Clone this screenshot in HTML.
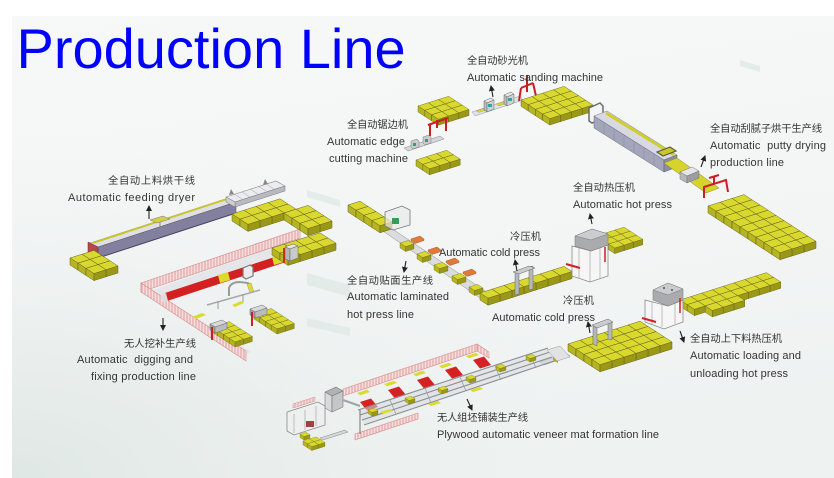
<!DOCTYPE html>
<html><head><meta charset="utf-8">
<style>
html,body{margin:0;padding:0;background:#fff;}
svg{display:block;}
.t{font-family:"Liberation Sans",Arial,sans-serif;font-size:11px;fill:#343434;white-space:pre;}
.c{font-family:"Liberation Sans","Noto Sans CJK SC","WenQuanYi Zen Hei",sans-serif;font-size:10.3px;fill:#343434;}
</style></head><body>
<svg width="834" height="478" viewBox="0 0 834 478" xmlns="http://www.w3.org/2000/svg" xmlns:xlink="http://www.w3.org/1999/xlink">
<defs>
 <linearGradient id="bg" x1="0" y1="0" x2="0.25" y2="1">
  <stop offset="0" stop-color="#f7f8f8"/>
  <stop offset="0.65" stop-color="#f3f5f5"/>
  <stop offset="1" stop-color="#eef2f1"/>
 </linearGradient>
 <radialGradient id="bl" cx="0" cy="1" r="0.75">
  <stop offset="0" stop-color="#dfe7e4" stop-opacity="1"/>
  <stop offset="1" stop-color="#eef2f1" stop-opacity="0"/>
 </radialGradient>
 <pattern id="hatch" width="3" height="12" patternUnits="userSpaceOnUse">
  <rect width="3" height="12" fill="#f7dede"/>
  <line x1="1" y1="0" x2="1" y2="12" stroke="#d88e8e" stroke-width="0.8"/>
 </pattern>
 <marker id="ah" markerWidth="6" markerHeight="6" refX="5" refY="3" orient="auto" markerUnits="userSpaceOnUse">
  <path d="M0,0 L6,3 L0,6 z" fill="#222"/>
 </marker>
 <g id="b" stroke="#66651c" stroke-width="0.5" stroke-linejoin="round">
  <polygon points="0,0 12,-3.8 20,1.4 8,5.2" fill="#d9d82e"/>
  <polygon points="0,0 8,5.2 8,12.2 0,7" fill="#b6b420"/>
  <polygon points="8,5.2 20,1.4 20,8.4 8,12.2" fill="#9a9816"/>
 </g>
 <g id="a2"><use href="#b" x="12" y="-3.8"/><use href="#b"/></g>
 <g id="a3"><use href="#b" x="24" y="-7.6"/><use href="#a2"/></g>
 <g id="a4"><use href="#b" x="36" y="-11.4"/><use href="#a3"/></g>
 <g id="a5"><use href="#b" x="48" y="-15.2"/><use href="#a4"/></g>
 <g id="a6"><use href="#b" x="60" y="-19"/><use href="#a5"/></g>
 <g id="a7"><use href="#b" x="72" y="-22.8"/><use href="#a6"/></g>
 <g id="a8"><use href="#b" x="84" y="-26.6"/><use href="#a7"/></g>
 <polygon id="rp" points="0,0 11,-3.5 18,5 7,8.5" fill="#d42222"/>
 <polygon id="yp" points="0,0 10,-3.3 13,-1 3,2.3" fill="#dcdb2c"/>
 <polygon id="op" points="0,0 9,-3 13,0 13,1.5 4,4.5 0,1.5" fill="#e07a38" stroke="#9a4a22" stroke-width="0.4"/>
</defs>

<!-- background -->
<rect width="834" height="478" fill="#fff"/>
<rect x="12" y="16" width="822" height="462" fill="url(#bg)"/>
<rect x="12" y="16" width="822" height="462" fill="url(#bl)"/>
<g fill="#dfeae6" opacity="0.8">
 <polygon points="307,190 340,200 340,207 307,197"/>
 <polygon points="307,273 350,285 350,297 307,285"/>
 <polygon points="307,318 350,328 350,336 307,326"/>
 <polygon points="740,60 760,66 760,72 740,66"/>
</g>

<!-- title -->
<text x="16.5" y="68" font-family="Liberation Sans, Arial, sans-serif" font-size="56" fill="#0000ff">Production Line</text>

<!-- ===== Digging & fixing line ===== -->
<polygon points="147,292 300,238 300,254 166,302" fill="#e4e6e9"/>
<polygon points="148,292 160,296 252,352 244,356" fill="#e6e8ea"/>
<polygon points="141,283 300,229 300,238 141,292" fill="url(#hatch)" stroke="#d48a8a" stroke-width="0.6"/>
<polygon points="141,283 246,351 246,361 141,292" fill="url(#hatch)" stroke="#d48a8a" stroke-width="0.6"/>
<polygon points="165,293 290,252 292,260 167,301" fill="#d42020"/>
<polygon points="160,296 166,293 168,301 163,302" fill="#dcdcdc"/>
<polygon points="218,275 228,272 230,280 220,283" fill="#dcdb2c"/>
<polygon points="272,257 282,254 284,262 274,265" fill="#dcdb2c"/>
<polygon points="243,268 250,265 253,267 253,276 246,279 243,277" fill="#ececee" stroke="#777" stroke-width="1.2"/>
<path d="M229,296 L229,288 Q231,282 240,282 L248,283 L252,290" fill="none" stroke="#9a9a9a" stroke-width="2"/>
<polygon points="247,284 251,283 254,292 250,293" fill="#dcdb2c" stroke="#888" stroke-width="0.4"/>
<line x1="207" y1="305" x2="260" y2="290" stroke="#a8a8ac" stroke-width="1.5"/>
<line x1="218" y1="301" x2="218" y2="309" stroke="#999" stroke-width="1"/>
<line x1="243" y1="294" x2="243" y2="302" stroke="#999" stroke-width="1"/>
<polygon points="192,317 202,313 206,315 196,319" fill="#dcdb2c"/>
<polygon points="232,305 241,301 244,303 235,307" fill="#dcdb2c"/>
<g transform="translate(212,327) scale(0.72)"><use href="#a2"/><use href="#a2" x="8" y="5.2"/><use href="#a2" x="16" y="10.4"/><use href="#a2" x="24" y="15.6"/></g>
<g transform="translate(254,314) scale(0.72)"><use href="#a2"/><use href="#a2" x="8" y="5.2"/><use href="#a2" x="16" y="10.4"/><use href="#a2" x="24" y="15.6"/></g>
<g stroke="#6a6a6a" stroke-width="0.5">
 <polygon points="250,309 262,305 267,308 255,312" fill="#d6d8da"/>
 <polygon points="250,309 255,312 255,318 250,315" fill="#a0a2a4"/>
 <polygon points="255,312 267,308 267,314 255,318" fill="#babcbe"/>
 <polygon points="210,324 222,320 227,323 215,327" fill="#d6d8da"/>
 <polygon points="210,324 215,327 215,333 210,330" fill="#a0a2a4"/>
 <polygon points="215,327 227,323 227,329 215,333" fill="#babcbe"/>
</g>
<line x1="252" y1="312" x2="252" y2="326" stroke="#cc2020" stroke-width="2"/>
<line x1="212" y1="327" x2="212" y2="340" stroke="#cc2020" stroke-width="2"/>

<!-- ===== Feeding dryer ===== -->
<polygon points="90,243 228,198 236,202 98,247" fill="#e0dfe8" stroke="#888" stroke-width="0.5"/>
<line x1="93" y1="243" x2="230" y2="198" stroke="#c8c628" stroke-width="1.8"/>
<polygon points="98,247 236,202 236,213 98,258" fill="#837f9f" stroke="#555" stroke-width="0.5"/>
<line x1="98" y1="258" x2="236" y2="213" stroke="#4a4660" stroke-width="1"/>
<polygon points="88,242 98,247 98,258 88,253" fill="#b84848" stroke="#6a2a2a" stroke-width="0.5"/>
<polygon points="150,220 163,216 170,219 157,223" fill="#d2d040" stroke="#777" stroke-width="0.5"/>
<line x1="160" y1="222" x2="160" y2="229" stroke="#888" stroke-width="1"/>
<polygon points="226,197 276,181 285,186 235,202" fill="#ececf0" stroke="#8a8a8a" stroke-width="0.6"/>
<polygon points="235,202 285,186 285,191 235,207" fill="#b9b9c2" stroke="#777" stroke-width="0.5"/>
<polygon points="226,197 235,202 235,207 226,202" fill="#cfcfd6" stroke="#777" stroke-width="0.5"/>
<g stroke="#9c9ca4" stroke-width="0.5">
 <line x1="234" y1="194" x2="242" y2="199"/><line x1="242" y1="192" x2="250" y2="197"/>
 <line x1="250" y1="189" x2="258" y2="194"/><line x1="258" y1="186" x2="266" y2="191"/>
 <line x1="266" y1="184" x2="274" y2="189"/>
</g>
<polygon points="229,195 231,189 234,194" fill="#888"/>
<polygon points="263,185 265,179 268,184" fill="#888"/>

<!-- piles near dryer -->
<use href="#a2" x="70" y="258"/><use href="#a2" x="78" y="263.2"/><use href="#a2" x="86" y="268.4"/>
<use href="#a4" x="232" y="214"/><use href="#a4" x="240" y="219.2"/>
<use href="#a2" x="284" y="213"/><use href="#a2" x="292" y="218.2"/><use href="#a2" x="300" y="223.4"/>
<use href="#a4" x="272" y="248"/><use href="#a4" x="280" y="253.2"/>
<g stroke="#666" stroke-width="0.5">
 <polygon points="285,247 293,244 298,246 290,249" fill="#e2e4e6"/>
 <polygon points="285,247 290,249 290,261 285,259" fill="#b4b6b8"/>
 <polygon points="290,249 298,246 298,258 290,261" fill="#c8cacc"/>
</g>
<line x1="284" y1="248" x2="284" y2="263" stroke="#cc2020" stroke-width="1.8"/>

<!-- ===== Edge cutting & sanding ===== -->
<g transform="translate(418,106) scale(0.85)"><use href="#a3"/><use href="#a3" x="8" y="5.2"/><use href="#a3" x="16" y="10.4"/></g>
<polygon points="404,148 440,136 444,139 408,151" fill="#d4d6da" stroke="#888" stroke-width="0.5"/>
<g stroke="#666" stroke-width="0.4">
 <polygon points="411,141 417,139 419,141 419,147 413,149 411,147" fill="#c8ccce"/>
 <polygon points="423,137 429,135 431,137 431,143 425,145 423,143" fill="#c8ccce"/>
</g>
<rect x="413" y="143" width="3" height="3" fill="#3a9a7a"/>
<rect x="425" y="139" width="3" height="3" fill="#3a9a7a"/>
<path d="M430,136 L430,124 M446,131 L446,119 M428,125 L448,118 M437,128 L437,120" fill="none" stroke="#c82020" stroke-width="2"/>
<g transform="translate(416,160) scale(0.85)"><use href="#a3"/><use href="#a3" x="8" y="5.2"/></g>
<polygon points="472,112 520,96 523,100 475,116" fill="#e2e2e6" stroke="#999" stroke-width="0.5"/>
<polygon points="476,111 486,107.5 489,109 479,112.5" fill="#d8d62c" stroke="#888" stroke-width="0.3"/>
<polygon points="496,104 505,101 508,103 499,106" fill="#d8d62c" stroke="#888" stroke-width="0.3"/>
<g stroke="#666" stroke-width="0.5">
 <polygon points="484,101 491,98 494,100 487,103" fill="#e4e6e8"/>
 <polygon points="484,101 487,103 487,112 484,110" fill="#b8bcbe"/>
 <polygon points="487,103 494,100 494,109 487,112" fill="#cdd1d4"/>
 <polygon points="504,95 511,92 514,94 507,97" fill="#e4e6e8"/>
 <polygon points="504,95 507,97 507,106 504,104" fill="#b8bcbe"/>
 <polygon points="507,97 514,94 514,103 507,106" fill="#cdd1d4"/>
</g>
<rect x="488" y="104" width="4" height="3" fill="#3aa0a0"/>
<rect x="508" y="98" width="4" height="3" fill="#3aa0a0"/>
<path d="M521,88 L533,83 M527,75 L527,92 M519,101 L521,88 M536,96 L533,83" fill="none" stroke="#c82020" stroke-width="2"/>
<g transform="translate(521,100) scale(0.9)"><use href="#a4"/><use href="#a4" x="8" y="5.2"/><use href="#a4" x="16" y="10.4"/><use href="#a4" x="24" y="15.6"/></g>

<!-- putty drying oven -->
<polygon points="589,108 600,103 603,106 603,119 592,123 589,121" fill="#f4f4f6" stroke="#6c6c6c" stroke-width="1.5"/>
<polygon points="594,116 607,111 677,155 664,160" fill="#d8d9e3" stroke="#7a7a8a" stroke-width="0.5"/>
<line x1="606" y1="113" x2="674" y2="155" stroke="#d0ce2a" stroke-width="3"/>
<polygon points="594,116 664,160 664,172 594,128" fill="#a3a5bb" stroke="#6a6a7a" stroke-width="0.5"/>
<g stroke="#8a8ca2" stroke-width="0.6">
 <line x1="604" y1="122.3" x2="604" y2="134.3"/><line x1="614" y1="128.6" x2="614" y2="140.6"/>
 <line x1="624" y1="134.9" x2="624" y2="146.9"/><line x1="634" y1="141.1" x2="634" y2="153.1"/>
 <line x1="644" y1="147.4" x2="644" y2="159.4"/><line x1="654" y1="153.7" x2="654" y2="165.7"/>
</g>
<polygon points="664,160 677,155 677,167 664,172" fill="#8c8ea4" stroke="#5a5a6a" stroke-width="0.5"/>
<polygon points="657,152 670,147 676,151 663,156" fill="#c8c628" stroke="#5a5a3a" stroke-width="1.2"/>
<polygon points="664,163 677,158 719,188 706,193" fill="#d6d42a" stroke="#8a8820" stroke-width="0.5"/>
<g stroke="#777" stroke-width="0.5">
 <polygon points="680,172 692,167 699,171 687,176" fill="#e6e6e8"/>
 <polygon points="680,172 687,176 687,183 680,179" fill="#b8b8bc"/>
 <polygon points="687,176 699,171 699,178 687,183" fill="#9c9ca2"/>
</g>
<path d="M704,198 L704,187 L726,180 L728,192 M714,184 L714,176 M709,178 L719,175" fill="none" stroke="#c82020" stroke-width="2"/>
<use href="#a3" x="708" y="206"/><use href="#a3" x="716" y="211.2"/><use href="#a3" x="724" y="216.4"/>
<use href="#a3" x="732" y="221.6"/><use href="#a3" x="740" y="226.8"/><use href="#a3" x="748" y="232"/>
<use href="#a3" x="756" y="237.2"/><use href="#a3" x="764" y="242.4"/><use href="#a3" x="772" y="247.6"/>

<!-- ===== Laminated hot press line ===== -->
<polygon points="380,229 388,226 494,297 486,302" fill="#dadcdf" stroke="#8c8c8c" stroke-width="0.5"/>
<use href="#b" x="348" y="205"/><use href="#b" x="356" y="210.2"/><use href="#b" x="364" y="215.4"/><use href="#b" x="372" y="220.6"/>
<polygon points="385,212 402,206 410,210 410,225 393,230 385,226" fill="#e8eaea" fill-opacity="0.7" stroke="#777" stroke-width="0.8"/>
<rect x="392" y="218" width="7" height="6" fill="#3a9a5a"/>
<use href="#op" x="411" y="239"/><use href="#op" x="428" y="250"/><use href="#op" x="446" y="261"/><use href="#op" x="463" y="272"/>
<g transform="translate(400,243) scale(0.7)"><use href="#b"/></g>
<g transform="translate(417,254) scale(0.7)"><use href="#b"/></g>
<g transform="translate(434,265) scale(0.7)"><use href="#b"/></g>
<g transform="translate(452,276) scale(0.7)"><use href="#b"/></g>
<g transform="translate(469,287) scale(0.7)"><use href="#b"/></g>
<use href="#a7" x="480" y="293"/>
<g stroke="#666" stroke-width="0.5" fill="#b5b7ba">
 <polygon points="515,272 519,271 519,294 515,295"/>
 <polygon points="529,267 533,266 533,289 529,290"/>
 <polygon points="513,272 529,266 535,268 519,274" fill="#c9cbce"/>
</g>

<!-- upper hot press -->
<g transform="translate(596,236) scale(0.78)"><use href="#a3"/><use href="#a3" x="8" y="5.2"/><use href="#a3" x="16" y="10.4"/></g>
<polygon points="572,246 591,251 608,245 608,276 590,282 572,276" fill="#f6f6f6" fill-opacity="0.9" stroke="#8a8a8a" stroke-width="0.8"/>
<g stroke="#9a9a9a" stroke-width="0.6"><line x1="579" y1="248" x2="579" y2="278"/><line x1="590" y1="251" x2="590" y2="282"/><line x1="600" y1="248" x2="600" y2="279"/></g>
<polygon points="575,236 592,229 608,234 608,245 591,251 575,246" fill="#a9abad" stroke="#777" stroke-width="0.5"/>
<polygon points="575,236 592,229 608,234 591,240" fill="#cacccf" stroke="#777" stroke-width="0.5"/>
<line x1="566" y1="264" x2="580" y2="268" stroke="#d02020" stroke-width="2"/>
<line x1="605" y1="247" x2="605" y2="262" stroke="#d02020" stroke-width="1.5"/>

<!-- lower hot press -->
<g transform="translate(680,300) scale(0.9)"><use href="#a8"/><use href="#a8" x="8" y="5.2"/><use href="#a3" x="28" y="6.6"/></g>
<polygon points="645,300 668,306 683,300 683,322 664,329 645,322" fill="#f6f6f6" fill-opacity="0.9" stroke="#8a8a8a" stroke-width="0.8"/>
<g stroke="#9a9a9a" stroke-width="0.6"><line x1="652" y1="302" x2="652" y2="324"/><line x1="662" y1="305" x2="662" y2="327"/><line x1="675" y1="302" x2="675" y2="324"/></g>
<polygon points="653,290 668,283 683,289 683,300 668,306 653,300" fill="#a9abad" stroke="#777" stroke-width="0.5"/>
<polygon points="653,290 668,283 683,289 668,295" fill="#cacccf" stroke="#777" stroke-width="0.5"/>
<circle cx="664" cy="288" r="1" fill="#555"/><circle cx="672" cy="290" r="1" fill="#555"/>
<line x1="642" y1="318" x2="656" y2="322" stroke="#d02020" stroke-width="2"/>
<line x1="680" y1="298" x2="680" y2="313" stroke="#d02020" stroke-width="1.5"/>

<!-- lower cold press pile -->
<use href="#a6" x="568" y="344"/><use href="#a6" x="576" y="349.2"/><use href="#a6" x="584" y="354.4"/><use href="#a6" x="592" y="359.6"/>
<g stroke="#666" stroke-width="0.5" fill="#b5b7ba">
 <polygon points="593,326 597,328 597,346 593,344"/>
 <polygon points="608,321 612,322 612,340 608,339"/>
 <polygon points="592,325 608,319 613,322 597,328" fill="#c9cbce"/>
</g>
<polygon points="540,362 566,353 570,356 544,365" fill="#d4d6da" stroke="#888" stroke-width="0.5"/>
<polygon points="553,357 563,354 568,357 558,360" fill="#d8d62c" stroke="#777" stroke-width="0.4"/>
<polygon points="553,357 558,360 558,363 553,360" fill="#a8a61c"/>

<!-- ===== Veneer mat formation line ===== -->
<polygon points="343,389 477,344 477,351 343,396" fill="url(#hatch)" stroke="#d48a8a" stroke-width="0.6"/>
<polygon points="477,344 489,352 489,358 477,351" fill="url(#hatch)" stroke="#d48a8a" stroke-width="0.6"/>
<use href="#yp" x="357" y="393"/><use href="#yp" x="384" y="384"/><use href="#yp" x="413" y="374"/><use href="#yp" x="439" y="366"/><use href="#yp" x="466" y="356"/>
<use href="#rp" x="360" y="402"/><use href="#rp" x="388" y="390"/><use href="#rp" x="417" y="380"/><use href="#rp" x="445" y="370"/><use href="#rp" x="473" y="360"/>
<polygon points="358,410 548,348 554,361 364,425" fill="#d9dbde" fill-opacity="0.55"/>
<g stroke="#8a8d92" stroke-width="1.1">
 <line x1="358" y1="410" x2="548" y2="348"/><line x1="360" y1="415" x2="550" y2="352"/>
 <line x1="362" y1="420" x2="552" y2="357"/><line x1="364" y1="425" x2="554" y2="361"/>
</g>
<g stroke="#9a9ca0" stroke-width="0.8">
 <line x1="390" y1="400" x2="396" y2="414"/><line x1="425" y1="388" x2="431" y2="403"/>
 <line x1="460" y1="377" x2="466" y2="391"/><line x1="495" y1="366" x2="501" y2="380"/>
 <line x1="530" y1="354" x2="536" y2="368"/>
</g>
<g transform="translate(368,410) scale(0.5)"><use href="#b"/></g>
<g transform="translate(405,398) scale(0.5)"><use href="#b"/></g>
<g transform="translate(438,388) scale(0.5)"><use href="#b"/></g>
<g transform="translate(466,377) scale(0.5)"><use href="#b"/></g>
<g transform="translate(496,366) scale(0.5)"><use href="#b"/></g>
<g transform="translate(526,356) scale(0.5)"><use href="#b"/></g>
<polygon points="380,412 390,409 393,411 383,414" fill="#dcdb2c"/>
<polygon points="428,404 438,401 441,403 431,406" fill="#dcdb2c"/>
<polygon points="470,390 480,387 483,389 473,392" fill="#dcdb2c"/>
<polygon points="355,434 418,413 418,419 355,440" fill="url(#hatch)" stroke="#d48a8a" stroke-width="0.6"/>
<line x1="360" y1="410" x2="360" y2="434" stroke="#888" stroke-width="1.2"/>
<polygon points="547,350 560,346 570,357 557,361" fill="#e0e2e4" stroke="#999" stroke-width="0.5"/>
<g stroke="#666" stroke-width="0.5">
 <polygon points="325,392 336,387 343,391 332,396" fill="#b0b2b4"/>
 <polygon points="325,392 332,396 332,412 325,408" fill="#d8dadc"/>
 <polygon points="332,396 343,391 343,407 332,412" fill="#c4c6c8"/>
</g>
<line x1="343" y1="400" x2="360" y2="406" stroke="#a0a2a6" stroke-width="2"/>
<polygon points="287,412 318,402 325,406 325,425 294,435 287,431" fill="#eeeff0" fill-opacity="0.7" stroke="#8a8a8a" stroke-width="0.8"/>
<g stroke="#9a9a9a" stroke-width="0.6"><line x1="294" y1="414" x2="294" y2="433"/><line x1="305" y1="410" x2="305" y2="430"/><line x1="316" y1="406" x2="316" y2="426"/></g>
<polygon points="293,404 315,397 315,401 293,408" fill="url(#hatch)" stroke="#d48a8a" stroke-width="0.5"/>
<rect x="306" y="421" width="8" height="6" fill="#a04040"/>
<polygon points="320,438 345,430 348,432 323,440" fill="#d4d6da" stroke="#888" stroke-width="0.5"/>
<g transform="translate(303,441) scale(0.55)"><use href="#a2"/><use href="#a2" x="8" y="5.2"/></g>
<g transform="translate(300,434) scale(0.5)"><use href="#b"/></g>

<!-- ===== arrows ===== -->
<g stroke="#222" stroke-width="1.1" marker-end="url(#ah)">
 <line x1="149" y1="219" x2="149" y2="206"/>
 <line x1="493" y1="97" x2="491" y2="86"/>
 <line x1="701" y1="167" x2="705" y2="156"/>
 <line x1="592" y1="224" x2="590" y2="214"/>
 <line x1="517" y1="271" x2="515" y2="260"/>
 <line x1="406" y1="261" x2="404" y2="272"/>
 <line x1="590" y1="333" x2="588" y2="322"/>
 <line x1="680" y1="331" x2="684" y2="342"/>
 <line x1="163" y1="318" x2="163" y2="330"/>
 <line x1="467" y1="399" x2="472" y2="410"/>
</g>

<!-- ===== labels ===== -->
<text class="c" x="467" y="64" textLength="61" lengthAdjust="spacing">全自动砂光机</text>
<text class="t" x="467" y="81" textLength="136" lengthAdjust="spacing">Automatic sanding machine</text>
<text class="c" x="347" y="128" textLength="61" lengthAdjust="spacing">全自动锯边机</text>
<text class="t" x="327" y="145" textLength="78" lengthAdjust="spacing">Automatic edge</text>
<text class="t" x="329" y="162" textLength="79" lengthAdjust="spacing">cutting machine</text>
<text class="c" x="108" y="184" font-size="10.9" textLength="87" lengthAdjust="spacing">全自动上料烘干线</text>
<text class="t" x="68" y="201" font-size="12" textLength="127" lengthAdjust="spacing">Automatic feeding dryer</text>
<text class="c" x="710" y="132" textLength="112" lengthAdjust="spacing">全自动刮腻子烘干生产线</text>
<text class="t" x="710" y="149" textLength="116" lengthAdjust="spacing">Automatic  putty drying</text>
<text class="t" x="710" y="166" textLength="74" lengthAdjust="spacing">production line</text>
<text class="c" x="573" y="191" textLength="62" lengthAdjust="spacing">全自动热压机</text>
<text class="t" x="573" y="208" textLength="99" lengthAdjust="spacing">Automatic hot press</text>
<text class="c" x="510" y="240" textLength="31" lengthAdjust="spacing">冷压机</text>
<text class="t" x="439" y="256" textLength="101" lengthAdjust="spacing">Automatic cold press</text>
<text class="c" x="347" y="284" font-size="10.7" textLength="86" lengthAdjust="spacing">全自动贴面生产线</text>
<text class="t" x="347" y="300" textLength="102" lengthAdjust="spacing">Automatic laminated</text>
<text class="t" x="347" y="318" textLength="67" lengthAdjust="spacing">hot press line</text>
<text class="c" x="563" y="304" textLength="31" lengthAdjust="spacing">冷压机</text>
<text class="t" x="492" y="321" textLength="103" lengthAdjust="spacing">Automatic cold press</text>
<text class="c" x="690" y="342" textLength="92" lengthAdjust="spacing">全自动上下料热压机</text>
<text class="t" x="690" y="359" textLength="111" lengthAdjust="spacing">Automatic loading and</text>
<text class="t" x="690" y="377" textLength="98" lengthAdjust="spacing">unloading hot press</text>
<text class="c" x="124" y="347" textLength="72" lengthAdjust="spacing">无人挖补生产线</text>
<text class="t" x="77" y="363" textLength="116" lengthAdjust="spacing">Automatic  digging and</text>
<text class="t" x="91" y="380" textLength="105" lengthAdjust="spacing">fixing production line</text>
<text class="c" x="437" y="421" textLength="91" lengthAdjust="spacing">无人组坯铺装生产线</text>
<text class="t" x="437" y="438" textLength="222" lengthAdjust="spacing">Plywood automatic veneer mat formation line</text>
</svg>
</body></html>
